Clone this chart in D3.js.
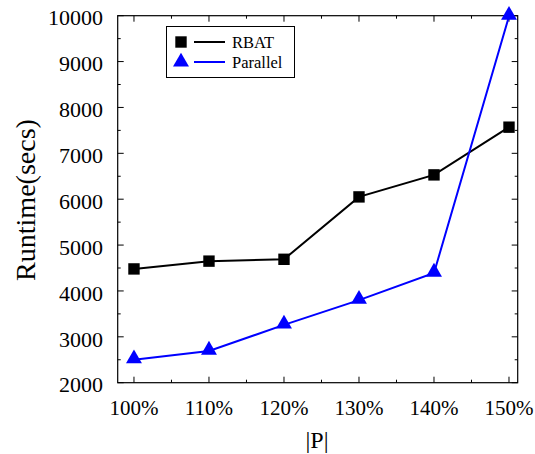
<!DOCTYPE html>
<html><head><meta charset="utf-8">
<script src="https://cdn.jsdelivr.net/npm/d3@7"></script>
<style>body{margin:0;background:#fff}svg{display:block}text{font-family:"Liberation Serif","Times New Roman",serif}</style>
</head><body><svg id="c" width="535" height="454"></svg>
<script>
const categories = [100, 110, 120, 130, 140, 150];
const tickLabels = ["100%", "110%", "120%", "130%", "140%", "150%"];
const rbat = [4480, 4650, 4690, 6050, 6530, 7570];
const parallel = [2500, 2690, 3260, 3800, 4390, 9990];
const yTicks = [2000, 3000, 4000, 5000, 6000, 7000, 8000, 9000, 10000];

const svg = d3.select("#c");
const L = 117.7, R = 517.7, T = 15.7, B = 382.7;
const x = d3.scaleLinear().domain([97.83, 151.16]).range([L, R]);
const y = d3.scaleLinear().domain([2000, 10000]).range([B, T]);

// frame
svg.append("rect").attr("x", L).attr("y", T).attr("width", R - L).attr("height", B - T)
  .attr("fill", "none").attr("stroke", "#000").attr("stroke-width", 1.2);

const minorX = d3.range(105, 151, 10);
const minorY = d3.range(2500, 10000, 1000);
const tk = svg.append("g").attr("stroke", "#000").attr("stroke-width", 1);
categories.forEach(v => {
  tk.append("line").attr("x1", x(v)).attr("x2", x(v)).attr("y1", B).attr("y2", B - 6);
  tk.append("line").attr("x1", x(v)).attr("x2", x(v)).attr("y1", T).attr("y2", T + 6);
});
minorX.forEach(v => {
  tk.append("line").attr("x1", x(v)).attr("x2", x(v)).attr("y1", B).attr("y2", B - 3);
  tk.append("line").attr("x1", x(v)).attr("x2", x(v)).attr("y1", T).attr("y2", T + 3);
});
yTicks.forEach(v => {
  tk.append("line").attr("x1", L).attr("x2", L + 6).attr("y1", y(v)).attr("y2", y(v));
  tk.append("line").attr("x1", R).attr("x2", R - 6).attr("y1", y(v)).attr("y2", y(v));
});
minorY.forEach(v => {
  tk.append("line").attr("x1", L).attr("x2", L + 3).attr("y1", y(v)).attr("y2", y(v));
  tk.append("line").attr("x1", R).attr("x2", R - 3).attr("y1", y(v)).attr("y2", y(v));
});

// tick labels
svg.append("g").selectAll("text").data(yTicks).join("text")
  .attr("x", 103).attr("y", d => y(d) + 2).attr("dy", "0.35em").attr("text-anchor", "end")
  .attr("font-size", 22).text(d => d);
svg.append("g").selectAll("text").data(categories).join("text")
  .attr("x", d => x(d)).attr("y", 407.5).attr("dy", "0.35em").attr("text-anchor", "middle")
  .attr("font-size", 21).text((d, i) => tickLabels[i]);

// titles
svg.append("text").attr("x", 317).attr("y", 448).attr("text-anchor", "middle")
  .attr("font-size", 24).text("|P|");
svg.append("text").attr("transform", `translate(35,200) rotate(-90)`)
  .attr("text-anchor", "middle").attr("font-size", 28).text("Runtime(secs)");

const line = d3.line().x((d, i) => x(categories[i])).y(d => y(d));
svg.append("path").datum(rbat).attr("d", line).attr("fill", "none").attr("stroke", "#000").attr("stroke-width", 2);
svg.append("path").datum(parallel).attr("d", line).attr("fill", "none").attr("stroke", "#0000ff").attr("stroke-width", 2);

const sq = d3.symbol().type(d3.symbolSquare).size(130);
const tri = d3.symbol().type(d3.symbolTriangle).size(110);
svg.append("g").selectAll("path").data(rbat).join("path")
  .attr("transform", (d, i) => `translate(${x(categories[i])},${y(d)})`).attr("d", sq).attr("fill", "#000");
svg.append("g").selectAll("path").data(parallel).join("path")
  .attr("transform", (d, i) => `translate(${x(categories[i])},${y(d) - 1})`).attr("d", tri).attr("fill", "#0000ff");

// legend
const lg = svg.append("g");
lg.append("rect").attr("x", 166.5).attr("y", 26.5).attr("width", 128).attr("height", 51)
  .attr("fill", "#fff").attr("stroke", "#000").attr("stroke-width", 1);
const items = [{name: "RBAT", color: "#000", sym: sq, yy: 42}, {name: "Parallel", color: "#0000ff", sym: tri, yy: 62}];
items.forEach(it => {
  lg.append("path").attr("transform", `translate(181,${it.yy})`).attr("d", it.sym).attr("fill", it.color);
  lg.append("line").attr("x1", 194).attr("x2", 225).attr("y1", it.yy).attr("y2", it.yy).attr("stroke", it.color).attr("stroke-width", 2);
  lg.append("text").attr("x", 232).attr("y", it.yy).attr("dy", "0.35em").attr("font-size", 16.5).text(it.name);
});
</script></body></html>
